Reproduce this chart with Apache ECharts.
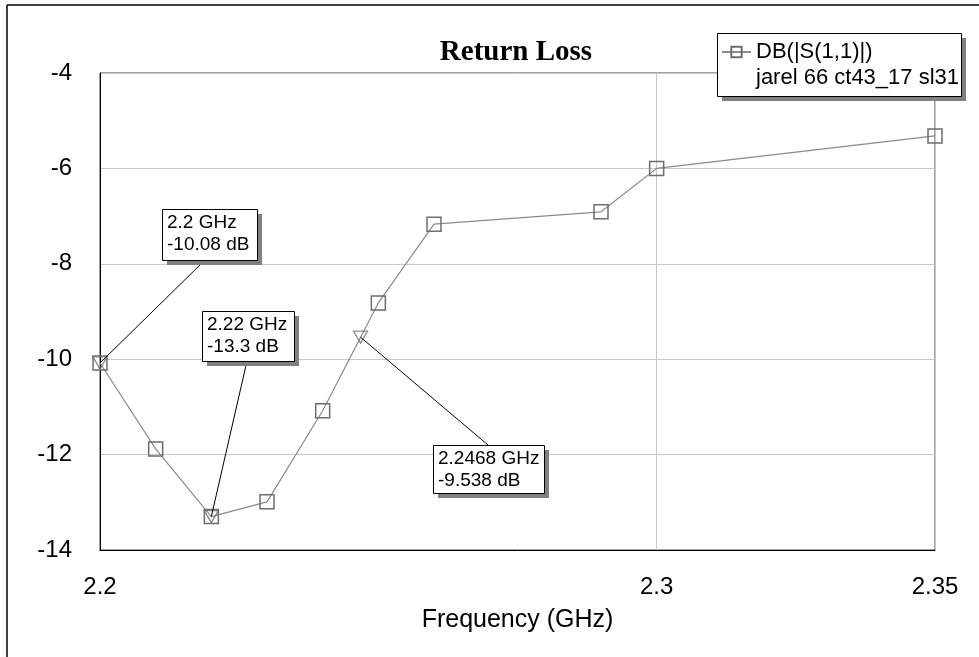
<!DOCTYPE html>
<html>
<head>
<meta charset="utf-8">
<script src="https://cdn.jsdelivr.net/npm/echarts@6/dist/echarts.min.js"></script>
<style>html,body{margin:0;padding:0;background:#fff;}#c{width:979px;height:657px;}</style>
</head>
<body>
<div id="c"></div>
<script>
// ---- data ----
const freq = [2.2, 2.21, 2.22, 2.23, 2.24, 2.25, 2.26, 2.29, 2.3, 2.35];
const s11 = [-10.08, -11.88, -13.3, -12.99, -11.08, -8.82, -7.17, -6.91, -6.0, -5.32];
const markerFreq = [2.2, 2.22, 2.2468];
const markerVal = [-10.08, -13.3, -9.538];
const seriesName = 'DB(|S(1,1)|)';
const seriesSub = 'jarel 66 ct43_17 sl31';
const titleText = 'Return Loss';
const xName = 'Frequency (GHz)';

const FONT = '"Liberation Sans", Arial, sans-serif';
const chart = echarts.init(document.getElementById('c'), null, {renderer: 'canvas'});

const option = {
  animation: false,
  backgroundColor: '#fff',
  title: {
    text: titleText, left: 516, top: 38, textAlign: 'center', padding: 0,
    textStyle: {fontFamily: '"Liberation Serif", "Times New Roman", serif', fontWeight: 'bold', fontSize: 29, color: '#000'}
  },
  legend: {
    data: [seriesName], left: 721, top: 41, padding: 0, z: 20,
    itemWidth: 29, itemHeight: 13, itemGap: 5,
    textStyle: {fontFamily: FONT, fontSize: 22, color: '#000'}
  },
  grid: {left: 100, right: 44, top: 73, bottom: 107, show: true, borderColor: '#444', borderWidth: 1, containLabel: false},
  xAxis: {
    type: 'value', min: 2.2, max: 2.35, interval: 0.1,
    name: xName, nameLocation: 'middle', nameGap: 58,
    nameTextStyle: {fontFamily: FONT, fontSize: 25, color: '#000'},
    axisLine: {lineStyle: {color: '#000', width: 1}},
    axisTick: {show: false},
    axisLabel: {fontFamily: FONT, fontSize: 24, color: '#000', margin: 25, formatter: v => String(+v.toFixed(2))},
    splitLine: {show: true, lineStyle: {color: '#c8c8c8', width: 1}}
  },
  yAxis: {
    type: 'value', min: -14, max: -4, interval: 2,
    axisLine: {show: true, lineStyle: {color: '#000', width: 1}},
    axisTick: {show: false},
    axisLabel: {fontFamily: FONT, fontSize: 24, color: '#000', margin: 28},
    splitLine: {show: true, lineStyle: {color: '#c8c8c8', width: 1}}
  },
  series: [
    {
      name: seriesName, type: 'line',
      data: freq.map((f, i) => [f, s11[i]]),
      symbol: 'rect', symbolSize: 14, showAllSymbol: true,
      lineStyle: {color: '#8a8a8a', width: 1.2},
      itemStyle: {color: 'rgba(255,255,255,0)', borderColor: '#6e6e6e', borderWidth: 1.5},
      z: 3
    },
    {
      name: 'markers', type: 'scatter',
      data: markerFreq.map((f, i) => [f, markerVal[i]]),
      symbol: 'triangle', symbolRotate: 180, symbolSize: [14, 12],
      itemStyle: {color: 'rgba(255,255,255,0)', borderColor: '#6e6e6e', borderWidth: 1.3},
      z: 4, silent: true
    }
  ]
};
chart.setOption(option);

// annotation box layout (pixels) and leader anchor points
const boxes = [
  {x: 162, y: 209, w: 95, h: 51, ax: 205, ay: 260},
  {x: 202, y: 311, w: 92, h: 50, ax: 247, ay: 361},
  {x: 433, y: 445, w: 111, h: 48, ax: 488, ay: 445}
];
const g = [];
// outer frame (top and left)
g.push({type: 'line', shape: {x1: 7, y1: 5, x2: 979, y2: 5}, style: {stroke: '#000', lineWidth: 1.5}, z: 1});
g.push({type: 'line', shape: {x1: 7, y1: 5, x2: 7, y2: 657}, style: {stroke: '#000', lineWidth: 1.5}, z: 1});
// legend box
g.push({type: 'rect', shape: {x: 722, y: 38, width: 244, height: 63}, style: {fill: '#808080'}, z: 10});
g.push({type: 'rect', shape: {x: 717.5, y: 33.5, width: 244, height: 63}, style: {fill: '#fff', stroke: '#000', lineWidth: 1}, z: 11});
g.push({type: 'text', x: 756, y: 78, style: {text: seriesSub, font: '22px ' + FONT, fill: '#000', verticalAlign: 'middle'}, z: 12});

markerFreq.forEach((f, i) => {
  const p = chart.convertToPixel({gridIndex: 0}, [f, markerVal[i]]);
  const b = boxes[i];
  g.push({type: 'line', shape: {x1: b.ax, y1: b.ay, x2: p[0], y2: p[1]}, style: {stroke: '#000', lineWidth: 1}, z: 9});
  g.push({type: 'rect', shape: {x: b.x + 5, y: b.y + 5, width: b.w, height: b.h}, style: {fill: '#808080'}, z: 10});
  g.push({type: 'rect', shape: {x: b.x + 0.5, y: b.y + 0.5, width: b.w, height: b.h}, style: {fill: '#fff', stroke: '#000', lineWidth: 1}, z: 11});
  g.push({type: 'text', x: b.x + 5, y: b.y + 3, style: {text: f + ' GHz\n' + markerVal[i] + ' dB', font: '19px ' + FONT, lineHeight: 22, fill: '#000'}, z: 12});
});
chart.setOption({graphic: {elements: g}});
</script>
</body>
</html>
